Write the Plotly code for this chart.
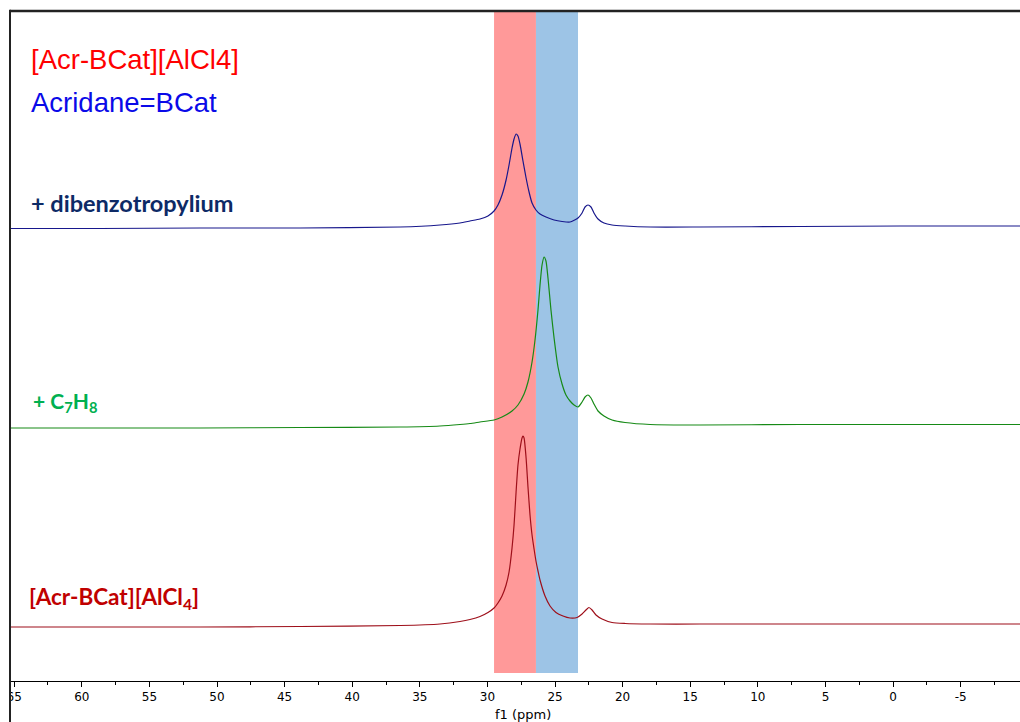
import plotly.graph_objects as go

# ---------------- data ----------------
# chemical shift (ppm) and intensity above each trace's own baseline (arb. units)
blue_ppm = [65.31, 58.65, 51.26, 43.86, 36.46, 33.51, 32.03, 31.29, 30.55, 29.96,
            29.51, 29.22, 28.92, 28.62, 28.40, 28.18, 28.03, 27.88, 27.74, 27.59,
            27.37, 27.14, 26.92, 26.70, 26.41, 26.11, 25.67, 25.07, 24.48, 23.89,
            23.30, 23.00, 22.78, 22.56, 22.34, 22.12, 21.82, 21.38, 20.78, 19.82,
            17.97, 14.28, 6.88, -0.52, -9.39]
blue_int = [-0.5, -0.5, 0, 0, 1, 3, 5, 7, 9, 12,
            17, 23, 33, 48, 63, 80, 89, 94, 92, 84,
            67, 50, 36, 25, 18, 14, 11, 8, 6.5, 6,
            10, 15, 21, 23, 21, 15, 9, 5, 3, 2,
            1, 1, 1.5, 2, 2]

green_ppm = [65.31, 58.65, 51.26, 43.86, 36.46, 33.51, 32.03, 31.29, 30.55, 29.51,
             28.92, 28.18, 27.74, 27.29, 27.00, 26.70, 26.48, 26.26, 26.11, 25.96,
             25.81, 25.67, 25.52, 25.30, 25.07, 24.78, 24.48, 24.19, 23.89, 23.59,
             23.30, 23.00, 22.78, 22.56, 22.34, 22.12, 21.82, 21.38, 20.78, 19.82,
             17.97, 14.28, 6.88, -0.52, -9.39]
green_int = [0, 0, 0, 0.5, 1, 2, 3.5, 4.5, 6, 8,
             11, 17, 23, 34, 46, 66, 88, 118, 143, 163,
             171, 167, 150, 118, 90, 61, 44, 33, 27, 23,
             21, 26, 31, 33, 30, 24, 17, 12, 8, 5.5,
             3.5, 3, 3.5, 3.5, 3.5]

red_ppm = [65.31, 58.65, 51.26, 43.86, 36.46, 33.51, 32.03, 31.29, 30.55, 29.96,
           29.51, 29.22, 28.92, 28.62, 28.40, 28.18, 28.03, 27.88, 27.74, 27.59,
           27.44, 27.37, 27.29, 27.14, 27.00, 26.85, 26.70, 26.55, 26.41, 26.26,
           26.11, 25.74, 25.37, 24.93, 24.41, 23.89, 23.37, 23.00, 22.71, 22.49,
           22.26, 21.97, 21.52, 20.78, 19.82, 17.97, 14.28, 6.88, -0.52, -9.39]
red_int = [0, 0, 0, 0.5, 1.5, 3, 5.5, 7.5, 10.5, 14.5,
           19, 24, 31, 42, 55, 79, 102, 135, 162, 178,
           189, 191, 189, 169, 140, 112, 92, 78, 66, 56,
           47, 31, 21, 14.5, 11, 9, 9.5, 13, 17, 19.5,
           17, 12, 8, 4.5, 3.5, 3, 3, 3, 3, 3]

# vertical stacking offsets of the three spectra
trace_offsets = {"blue": 453, "green": 253, "red": 54}

# highlighted chemical-shift windows (ppm)
highlight_ranges = [(29.51, 26.41), (26.41, 23.30)]

tick_vals = [65, 60, 55, 50, 45, 40, 35, 30, 25, 20, 15, 10, 5, 0, -5, -10]
tick_text = ["65", "60", "55", "50", "45", "40", "35", "30", "25", "20",
             "15", "10", "5", "0", "-5", "-10"]

# ---------------- figure ----------------
fig = go.Figure()

series = [
    (red_ppm, red_int, trace_offsets["red"], "#9e0f1a"),
    (green_ppm, green_int, trace_offsets["green"], "#168a16"),
    (blue_ppm, blue_int, trace_offsets["blue"], "#17178c"),
]
for xs, ys, off, col in series:
    fig.add_trace(go.Scatter(
        x=xs, y=[v + off for v in ys], mode="lines",
        line=dict(color=col, width=1.2, shape="spline", smoothing=0.6),
        hoverinfo="skip"))

band_colors = ["#FF9999", "#9DC4E6"]
for (a, b), c in zip(highlight_ranges, band_colors):
    fig.add_shape(type="rect", xref="x", yref="y", x0=a, x1=b, y0=8, y1=670,
                  fillcolor=c, line=dict(width=0), layer="below")

# frame lines (top and left)
fig.add_shape(type="line", xref="paper", yref="paper", x0=0, x1=1, y0=1, y1=1,
              line=dict(color="#222222", width=2.5), layer="above")
fig.add_shape(type="rect", xref="paper", yref="paper", x0=-0.02, x1=0,
              y0=-0.1, y1=1.02, fillcolor="white", line=dict(width=0), layer="above")
fig.add_shape(type="line", xref="paper", yref="paper", x0=0, x1=0, y0=1.002, y1=-0.07,
              line=dict(color="#222222", width=2), layer="above")

ann = []
ann.append(dict(text="[Acr-BCat][AlCl4]", x=0.0188, y=0.928,
                font=dict(family="Liberation Sans, Arial", size=27.5, color="#ff0000")))
ann.append(dict(text="Acridane=BCat", x=0.0188, y=0.8627,
                font=dict(family="Liberation Sans, Arial", size=27.5, color="#0a0ae8")))
ann.append(dict(text="+ dibenzotropylium", x=0.0188, y=0.7134,
                font=dict(family="Lato", size=23.5, color="#0d2a66", weight=700)))
ann.append(dict(text="+ C<sub>7</sub>H<sub>8</sub>", x=0.0208, y=0.4164,
                font=dict(family="Lato", size=21, color="#00b050", weight=700)))
ann.append(dict(text="[Acr-BCat][AlCl<sub>4</sub>]", x=0.0168, y=0.1239,
                font=dict(family="Lato", size=22.5, color="#c00000", weight=700)))
ann.append(dict(text="f1 (ppm)", x=0.508, y=-0.0493,
                font=dict(family="DejaVu Sans, Verdana", size=13, color="black")))
for a in ann:
    a.update(xref="paper", yref="paper", xanchor="left" if a["text"] != "f1 (ppm)" else "center",
             yanchor="middle", showarrow=False)
    fig.add_annotation(**a)

fig.update_layout(
    width=1020, height=722,
    margin=dict(l=10, r=0, t=11, b=41),
    paper_bgcolor="white", plot_bgcolor="white",
    showlegend=False,
    xaxis=dict(
        range=[65.31, -9.39], tickmode="array", tickvals=tick_vals, ticktext=tick_text,
        showline=True, linecolor="black", linewidth=1,
        ticks="outside", ticklen=5, tickcolor="black", tickwidth=1,
        minor=dict(dtick=2.5, tick0=0, ticks="outside", ticklen=3, tickcolor="black"),
        showgrid=False, zeroline=False, ticklabeloverflow="allow",
        tickfont=dict(family="DejaVu Sans, Verdana", size=12, color="black"),
    ),
    yaxis=dict(range=[0, 670], visible=False, showgrid=False, zeroline=False),
)

fig.write_html("out.html")
